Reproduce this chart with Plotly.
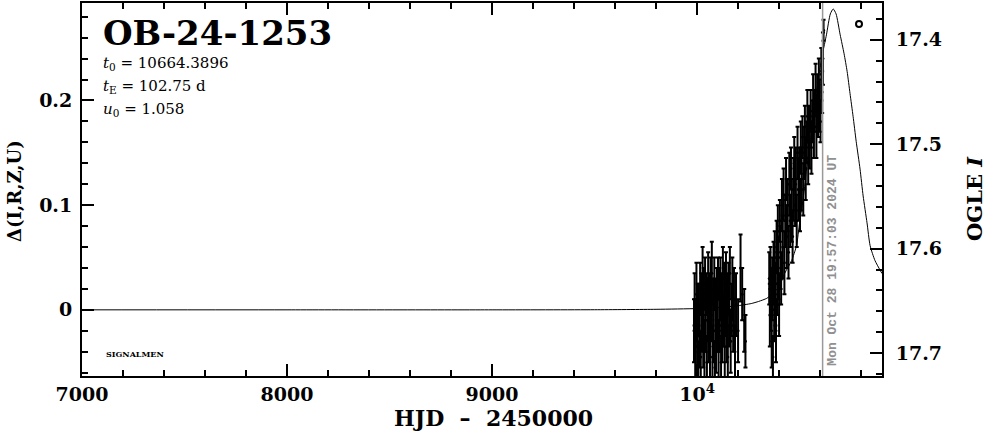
import plotly.graph_objects as go

# ---------------- data ----------------
model_x = [7000, 8000, 9000, 9500, 9800, 10000, 10100, 10200, 10264, 10300, 10340, 10366,
           10400, 10427, 10461, 10485, 10500, 10519, 10534, 10553, 10568, 10582, 10597,
           10612, 10631, 10650, 10664, 10678, 10698, 10717, 10732, 10746, 10761, 10776,
           10795, 10810, 10829, 10844, 10868, 10902]
model_d = [0.0, 0.0, 0.0, 0.0001, 0.0005, 0.0012, 0.002, 0.004, 0.006, 0.008, 0.011, 0.015,
           0.022, 0.0347, 0.047, 0.0613, 0.0831, 0.1088, 0.1344, 0.161, 0.1848, 0.2067, 0.2276,
           0.2447, 0.2627, 0.2827, 0.2874, 0.2827, 0.2627, 0.2447, 0.2276, 0.2067, 0.1848, 0.161,
           0.1344, 0.1088, 0.0831, 0.0613, 0.047, 0.0347]

obs_hjd = [9985, 9988, 9991, 9994, 9997, 10000, 10003, 10006, 10009, 10012, 10015, 10018,
           10021, 10024, 10027, 10030, 10033, 10036, 10039, 10042, 10045, 10048, 10051, 10054,
           10057, 10060, 10063, 10066, 10069, 10072, 10075, 10078, 10081, 10084, 10087, 10090,
           10093, 10096, 10099, 10102, 10105, 10108, 10111, 10114, 10117, 10120, 10123, 10126,
           10129, 10132, 10135, 10138, 10141, 10144, 10147, 10150, 10153, 10156, 10160, 10164,
           10168, 10172, 10176, 10180, 10185, 10190, 10200, 10212, 10220, 10230, 10236,
           10352, 10355, 10358, 10361, 10364, 10367, 10370, 10373, 10376, 10379, 10382, 10385,
           10388, 10391, 10394, 10397, 10400, 10404, 10407, 10410, 10414, 10418, 10422, 10426,
           10430, 10434, 10438, 10442, 10446, 10450, 10454, 10458, 10462, 10466, 10470, 10474,
           10478, 10482, 10486, 10490, 10494, 10498, 10502, 10506, 10510, 10514, 10518, 10522,
           10526, 10530, 10534, 10538, 10542, 10546, 10550, 10554, 10558, 10562, 10566, 10570,
           10574, 10578, 10582, 10586, 10590, 10594, 10598, 10602, 10606, 10610, 10614, 10617]
obs_d = [-0.02, 0.01, -0.04, -0.01, 0.015, -0.035, -0.005, -0.05, 0.0, -0.025, 0.02, -0.045,
         0.005, -0.015, 0.03, -0.03, 0.01, -0.04, 0.025, -0.01, 0.015, -0.05, 0.0, 0.03,
         -0.02, 0.01, -0.035, 0.02, -0.005, 0.035, -0.045, 0.005, -0.02, 0.025, -0.055, 0.0,
         -0.03, 0.015, -0.01, 0.03, -0.04, 0.01, -0.015, 0.02, -0.05, 0.005, -0.025, 0.03,
         -0.01, 0.015, -0.035, 0.0, 0.025, -0.02, 0.01, -0.045, 0.02, -0.005, 0.035, -0.03,
         0.0, 0.02, -0.015, 0.01, -0.04, 0.005, -0.02, 0.04, 0.015, -0.01, -0.03,
         0.03, -0.005, 0.04, 0.01, -0.03, 0.02, -0.045, 0.035, 0.0, 0.05, 0.015, -0.02,
         0.06, 0.025, 0.075, 0.04, 0.005, 0.085, 0.05, 0.03, 0.1, 0.06, 0.11, 0.045,
         0.085, 0.125, 0.07, 0.1, 0.055, 0.12, 0.085, 0.135, 0.095, 0.07, 0.115, 0.14,
         0.1, 0.125, 0.085, 0.15, 0.115, 0.135, 0.1, 0.155, 0.125, 0.165, 0.115, 0.15,
         0.175, 0.135, 0.16, 0.185, 0.145, 0.175, 0.16, 0.19, 0.155, 0.18, 0.2, 0.17,
         0.19, 0.21, 0.175, 0.2, 0.185, 0.215, 0.195, 0.18, 0.225, 0.208, 0.24, 0.267]
obs_err = [0.03, 0.025, 0.03, 0.02, 0.03, 0.025, 0.03, 0.02, 0.025, 0.03, 0.025, 0.025,
           0.03, 0.025, 0.03, 0.025, 0.03, 0.03, 0.025, 0.03, 0.02, 0.025, 0.03, 0.025,
           0.03, 0.025, 0.03, 0.03, 0.025, 0.03, 0.03, 0.025, 0.03, 0.025, 0.025, 0.03,
           0.03, 0.025, 0.03, 0.02, 0.03, 0.03, 0.025, 0.03, 0.025, 0.03, 0.025, 0.03,
           0.025, 0.03, 0.03, 0.025, 0.03, 0.03, 0.025, 0.03, 0.025, 0.03, 0.025, 0.03,
           0.025, 0.03, 0.025, 0.03, 0.025, 0.03, 0.03, 0.032, 0.025, 0.03, 0.025,
           0.025, 0.03, 0.02, 0.03, 0.025, 0.03, 0.02, 0.03, 0.03, 0.025, 0.03, 0.03,
           0.025, 0.03, 0.025, 0.03, 0.03, 0.02, 0.03, 0.025, 0.025, 0.03, 0.025, 0.03,
           0.025, 0.02, 0.03, 0.025, 0.025, 0.03, 0.025, 0.02, 0.03, 0.025, 0.03, 0.025,
           0.02, 0.03, 0.025, 0.025, 0.03, 0.02, 0.025, 0.025, 0.03, 0.02, 0.025, 0.025,
           0.02, 0.03, 0.02, 0.025, 0.025, 0.02, 0.025, 0.02, 0.025, 0.02, 0.025, 0.025,
           0.02, 0.025, 0.03, 0.025, 0.02, 0.025, 0.025, 0.02, 0.025, 0.02, 0.025, 0.01]

now_hjd = 10612.33
now_label = "Mon Oct 28 19:57:03 2024 UT"
event_name = "OB-24-1253"
param_lines = ["<i>t</i><sub>0</sub> = 10664.3896",
               "<i>t</i><sub>E</sub> = 102.75 d",
               "<i>u</i><sub>0</sub> = 1.058"]

x_ticks = [7000, 8000, 9000, 10000]
x_ticktext = ["7000", "8000", "9000", "10<sup>4</sup>"]
y_ticks = [0, 0.1, 0.2]
y_ticktext = ["0", "0.1", "0.2"]
mag_ticks = [17.4, 17.5, 17.6, 17.7]

x_range = [7000, 10902]
d_range = [-0.0632, 0.2931]
mag_range = [17.7219, 17.3648]

# ---------------- figure ----------------
SERIF = "DejaVu Serif"
fig = go.Figure()

fig.add_trace(go.Scatter(x=model_x, y=model_d, mode="lines",
                         line=dict(color="black", width=1, shape="spline", smoothing=0.6),
                         hoverinfo="skip", showlegend=False))
fig.add_trace(go.Scatter(x=obs_hjd, y=obs_d, mode="markers",
                         marker=dict(color="black", size=3),
                         error_y=dict(type="data", array=obs_err, color="black",
                                      thickness=2, width=2),
                         showlegend=False))
fig.add_trace(go.Scatter(x=[], y=[], yaxis="y2", showlegend=False))

fig.add_vline(x=now_hjd, line=dict(color="#999999", width=1.5))

minor_x = [v for v in range(7000, 10901, 200)]
minor_d = [round(-0.06 + 0.02 * i, 2) for i in range(0, 18)]
minor_m = [round(17.36 + 0.02 * i, 2) for i in range(0, 19)]

fig.update_layout(
    width=986, height=434,
    margin=dict(l=82, r=104, t=1, b=58),
    plot_bgcolor="white", paper_bgcolor="white",
    showlegend=False,
    xaxis=dict(range=x_range, tickmode="array", tickvals=x_ticks, ticktext=x_ticktext,
               ticks="inside", ticklen=12, tickwidth=2, tickcolor="black",
               showline=True, linecolor="black", linewidth=2, mirror="ticks",
               showgrid=False, zeroline=False,
               tickfont=dict(family=SERIF, size=19, color="black", weight="bold"),
               minor=dict(tickmode="array", tickvals=minor_x, ticks="inside", ticklen=6,
                          tickwidth=1.5, tickcolor="black", showgrid=False)),
    yaxis=dict(range=d_range, tickmode="array", tickvals=y_ticks, ticktext=y_ticktext,
               ticks="inside", ticklen=12, tickwidth=2, tickcolor="black",
               showline=True, linecolor="black", linewidth=2, mirror=False,
               showgrid=False, zeroline=False, ticklabelstandoff=4,
               tickfont=dict(family=SERIF, size=19, color="black", weight="bold"),
               minor=dict(tickmode="array", tickvals=minor_d, ticks="inside", ticklen=6,
                          tickwidth=1.5, tickcolor="black", showgrid=False)),
    yaxis2=dict(range=mag_range, overlaying="y", side="right", tickmode="array",
                tickvals=mag_ticks, ticktext=[f"{v:.1f}" for v in mag_ticks],
                ticks="inside", ticklen=12, tickwidth=2, tickcolor="black",
                showline=True, linecolor="black", linewidth=2,
                showgrid=False, zeroline=False, ticklabelstandoff=8,
                tickfont=dict(family=SERIF, size=19, color="black", weight="bold"),
                minor=dict(tickmode="array", tickvals=minor_m, ticks="inside", ticklen=6,
                           tickwidth=1.5, tickcolor="black", showgrid=False)),
)

def px(xp):
    return (xp - 82) / 800.0

def py(yp):
    return (376 - yp) / 375.0

ann = []
ann.append(dict(text=event_name, x=px(101), y=py(31), xref="paper", yref="paper",
                xanchor="left", yanchor="middle", showarrow=False,
                font=dict(family=SERIF, size=34, color="black", weight="bold")))
for i, line in enumerate(param_lines):
    ann.append(dict(text=line, x=px(101), y=py(62 + 23 * i), xref="paper", yref="paper",
                    xanchor="left", yanchor="middle", showarrow=False,
                    font=dict(family=SERIF, size=15, color="black")))
ann.append(dict(text="SIGNALMEN", x=px(104), y=py(354), xref="paper", yref="paper",
                xanchor="left", yanchor="middle", showarrow=False,
                font=dict(family=SERIF, size=8, color="black", weight="bold")))
ann.append(dict(text=now_label, x=now_hjd, xref="x", y=py(368), yref="paper",
                xanchor="left", yanchor="bottom", textangle=-90, showarrow=False, xshift=0,
                font=dict(family="Liberation Mono", size=13, color="#909090", weight="bold")))
ann.append(dict(text="HJD  \u2013  2450000", x=px(493), y=py(418), xref="paper", yref="paper",
                xanchor="center", yanchor="middle", showarrow=False,
                font=dict(family=SERIF, size=22, color="black", weight="bold")))
ann.append(dict(text="\u0394(I,R,Z,U)", x=px(15), y=py(190), xref="paper", yref="paper",
                xanchor="center", yanchor="middle", textangle=-90, showarrow=False,
                font=dict(family=SERIF, size=18, color="black", weight="bold")))
ann.append(dict(text="OGLE <i>I</i>", x=px(975), y=py(198), xref="paper", yref="paper",
                xanchor="center", yanchor="middle", textangle=-90, showarrow=False,
                font=dict(family=SERIF, size=21, color="black", weight="bold")))
fig.update_layout(annotations=ann)

fig.add_shape(type="circle", xref="paper", yref="paper", xsizemode="pixel", ysizemode="pixel",
              xanchor=px(859), yanchor=py(22), x0=-3, x1=3, y0=-3, y1=3,
              line=dict(color="black", width=2))

fig.write_html("out.html", config={"displayModeBar": False},
               post_script="document.body.style.margin='0';document.body.style.overflow='hidden';")
